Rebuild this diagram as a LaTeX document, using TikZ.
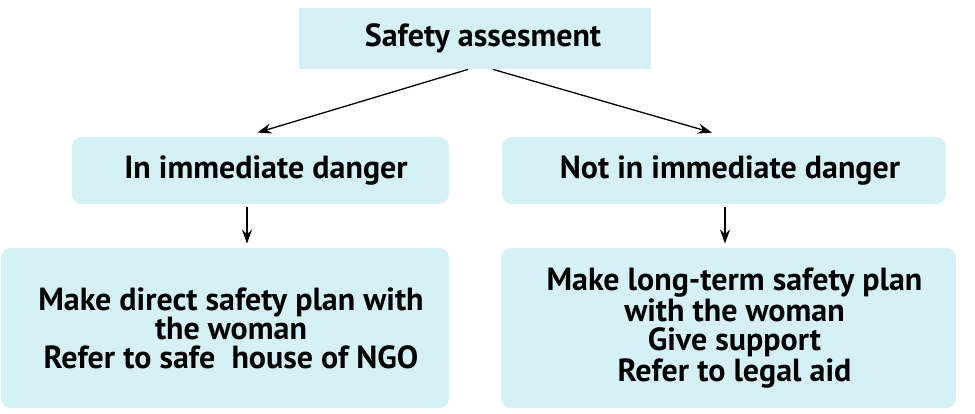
\documentclass[tikz,border=0pt]{standalone}
\usepackage{fontspec}
\setmainfont{PT Sans}
\usetikzlibrary{arrows.meta}
\definecolor{boxcyan}{RGB}{214,241,245}

\begin{document}
\begin{tikzpicture}[>={Stealth[length=7pt,width=5pt]}, x=0.5pt, y=-0.5pt,
  box/.style={fill=boxcyan, align=center, inner sep=0pt,
    font=\bfseries\fontsize{16}{14.5}\selectfont},
  roundbox/.style={box, rounded corners=5pt},
  arr/.style={->, line width=0.65pt}]
\useasboundingbox (0,0) rectangle (975,413);

\node[box, minimum width=176pt, minimum height=30.5pt] (safety) at (475,38.5) {\hspace*{8pt}Safety assesment};

\node[roundbox, minimum width=188.5pt, minimum height=33.5pt] (danger) at (260.5,170.5) {\hspace*{5.5pt}In immediate danger};
\node[roundbox, minimum width=222pt, minimum height=33.5pt] (nodanger) at (724,170.5) {\hspace*{6pt}Not in immediate danger};

\node[roundbox, minimum width=224pt, minimum height=80pt] (directplan) at (225,328) {\hspace*{6pt}Make direct safety plan with\\ \hspace*{6pt}the woman\\ \hspace*{6pt}Refer to safe\ \ house of NGO};
\node[roundbox, minimum width=227.5pt, minimum height=80pt] (longplan) at (728.5,328) {\hspace*{6pt}Make long-term safety plan\\ \hspace*{6pt}with the woman\\ \hspace*{6pt}Give support\\ \hspace*{6pt}Refer to legal aid};

\draw[arr] ([xshift=-3.5pt]safety.south) -- ([xshift=-1.5pt,yshift=2pt]danger.north);
\draw[arr] ([xshift=9pt]safety.south) -- ([xshift=-6pt,yshift=2pt]nodanger.north);

\draw[arr] ([xshift=-6.75pt,yshift=-1.5pt]danger.south) -- ([xshift=11pt,yshift=2pt]directplan.north);
\draw[arr] ([xshift=0.5pt,yshift=-1.5pt]nodanger.south) -- ([xshift=-1.75pt,yshift=2pt]longplan.north);

\end{tikzpicture}
\end{document}
